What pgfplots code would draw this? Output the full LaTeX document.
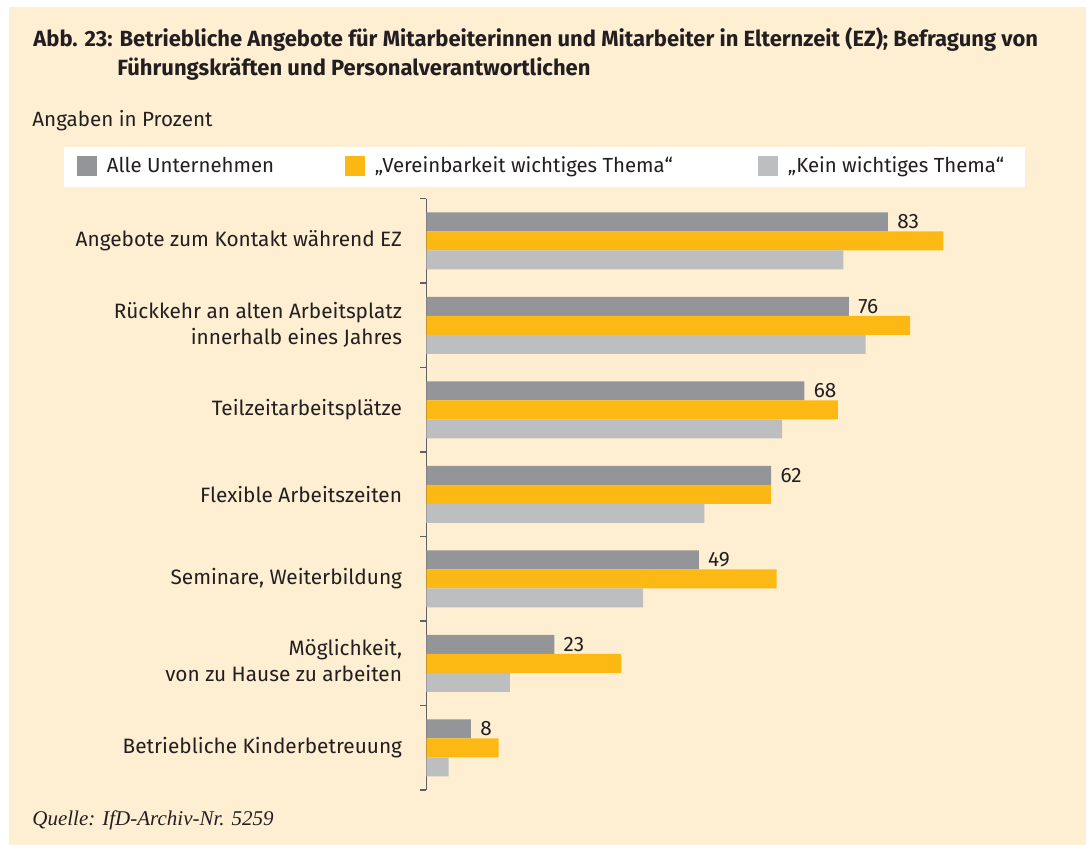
\documentclass[border=0pt]{standalone}
\usepackage{fontspec}
\setmainfont{Fira Sans}
\newfontfamily\srcfont{Liberation Serif}
\usepackage{pgfplots}
\pgfplotsset{compat=1.18}
\definecolor{bg}{HTML}{FEEFD3}
\definecolor{gbar}{HTML}{939598}
\definecolor{obar}{HTML}{FDB913}
\definecolor{lbar}{HTML}{BCBEC0}
\definecolor{txt}{HTML}{231F20}
\definecolor{axisc}{HTML}{5F6062}
\begin{document}
\begin{tikzpicture}[x=0.5pt,y=-0.5pt]
\useasboundingbox (0,0) rectangle (1086,845);
\fill[white] (0,0) rectangle (1086,845);
\fill[bg] (9,7) rectangle (1086,845);
\fill[white] (64,147) rectangle (1025,187);
\coordinate (axorig) at (426.4,790);
\node[anchor=base west, inner sep=0pt, font=\bfseries\fontsize{11}{13}\selectfont, text=txt] at (33,47) {Abb. 23: Betriebliche Angebote für Mitarbeiterinnen und Mitarbeiter in Elternzeit (EZ); Befragung von};
\node[anchor=base west, inner sep=0pt, font=\bfseries\fontsize{11}{13}\selectfont, text=txt] at (117,76) {Führungskräften und Personalverantwortlichen};
\node[anchor=base west, inner sep=0pt, font=\fontsize{10.3}{12}\selectfont, text=txt] at (32,127) {Angaben in Prozent};
\node[anchor=base west, inner sep=0pt, font=\srcfont\itshape\fontsize{10.5}{12}\selectfont, text=txt] at (32,825) {Quelle: IfD-Archiv-Nr. 5259};
\begin{axis}[
  at={(axorig)}, anchor=south west,
  scale only axis, width=305.8pt, height=295.75pt,
  xbar, bar width=9.5pt,
  xmin=0, xmax=110, ymin=0.5, ymax=7.5,
  /pgf/number format/assume math mode=true,
  axis x line=none, axis y line=left,
  axis line style={-, draw=axisc, line width=0.8pt},
  ytick={1,...,7},
  yticklabels={Betriebliche Kinderbetreuung, {\raisebox{5pt}{\begin{tabular}{@{}r@{}}Möglichkeit,\\von zu Hause zu arbeiten\end{tabular}}}, {Seminare, Weiterbildung}, Flexible Arbeitszeiten, Teilzeitarbeitsplätze, {Rückkehr an alten Arbeitsplatz\\innerhalb eines Jahres}, Angebote zum Kontakt während EZ},
  major tick length=0pt,
  extra y ticks={0.5,1.5,...,7.5}, extra y tick labels={},
  extra y tick style={major tick length=3pt, tick align=outside, tick style={draw=axisc, line width=0.8pt}},
  yticklabel style={align=right, inner sep=0pt, xshift=-12pt, font=\fontsize{10.4}{13}\selectfont, text=txt},
  legend columns=3,
  legend image code/.code={\fill[#1] (0pt,-5pt) rectangle (10pt,5pt);},
  legend style={at={(-0.5713,1.0549)}, anchor=west, draw=none, fill=none, inner sep=0pt, outer sep=0pt, /tikz/column sep=5pt, nodes={inner sep=0pt, text=txt, font=\fontsize{10.2}{12}\selectfont}},
  clip=false,
]
\addplot[fill=gbar, draw=none, bar shift=9.5pt, nodes near coords, nodes near coords style={anchor=west, inner sep=0pt, xshift=4.5pt, font=\fontsize{10.4}{12}\selectfont, text=txt}]
  coordinates {(83,7) (76,6) (68,5) (62,4) (49,3) (23,2) (8,1)};
\addlegendentry{\makebox[114pt][l]{Alle Unternehmen}}
\addplot[fill=obar, draw=none, bar shift=0pt]
  coordinates {(93,7) (87,6) (74,5) (62,4) (63,3) (35,2) (13,1)};
\addlegendentry{\makebox[186.5pt][l]{„Vereinbarkeit wichtiges Thema“}}
\addplot[fill=lbar, draw=none, bar shift=-9.5pt]
  coordinates {(75,7) (79,6) (64,5) (50,4) (39,3) (15,2) (4,1)};
\addlegendentry{„Kein wichtiges Thema“}
\end{axis}
\end{tikzpicture}
\end{document}
